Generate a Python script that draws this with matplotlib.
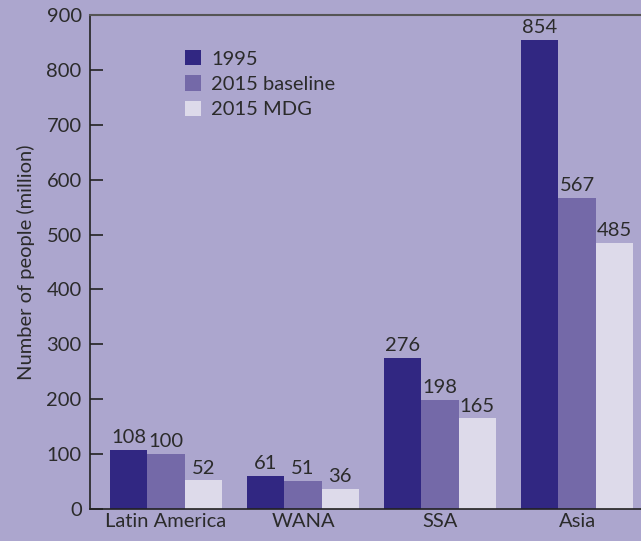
import numpy as np
import matplotlib.pyplot as plt

regions = ["Latin America", "WANA", "SSA", "Asia"]
series_names = ["1995", "2015 baseline", "2015 MDG"]
v1995 = [108, 61, 276, 854]
v2015_base = [100, 51, 198, 567]
v2015_mdg = [52, 36, 165, 485]

bg = "#aca6ce"
colors = ["#312782", "#7469a8", "#dddaea"]
txt = "#2b2b2b"

plt.rcParams['font.family'] = ['Lato', 'DejaVu Sans']
fs = 14.5

fig = plt.figure(figsize=(6.41, 5.41), dpi=100, facecolor=bg)
ax = fig.add_axes([90 / 641, 32 / 541, 551 / 641, 494 / 541])
ax.set_facecolor(bg)

x = np.arange(len(regions))
w = 0.272
for i, (vals, c, name) in enumerate(zip([v1995, v2015_base, v2015_mdg], colors, series_names)):
    pos = x + (i - 1) * w
    ax.bar(pos, vals, width=w, color=c, label=name, linewidth=0)
    for p, v in zip(pos, vals):
        ax.text(p, v + 7, str(v), ha="center", va="bottom", fontsize=fs, color=txt)

ax.set_xlim(-0.555, 3.467)
ax.set_ylim(0, 900)
ax.set_yticks(range(0, 901, 100))
ax.set_xticks(x)
ax.set_xticklabels(regions)
ax.tick_params(axis="y", direction="in", length=9, width=1.2, colors="#222222",
               labelsize=fs, labelcolor=txt, pad=6)
ax.tick_params(axis="x", length=0, labelsize=fs, labelcolor=txt, pad=3)
ax.set_ylabel("Number of people (million)", fontsize=fs, color=txt, labelpad=8)

for s in ["left", "bottom"]:
    ax.spines[s].set_color("#222222")
    ax.spines[s].set_linewidth(1.2)
ax.spines["top"].set_color("#555555")
ax.spines["top"].set_linewidth(1.5)
ax.spines["right"].set_visible(False)

ax.legend(loc="upper left", bbox_to_anchor=(0.139, 0.966), frameon=False, fontsize=fs,
          handlelength=0.8, handleheight=0.8, handletextpad=0.5, labelspacing=0.38,
          labelcolor=txt)

fig.savefig("out.png", dpi=100, facecolor=bg)
